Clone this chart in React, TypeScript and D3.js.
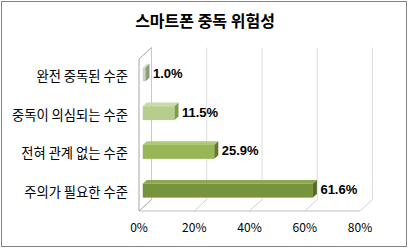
import React from "react";
import * as d3 from "d3";

const title = "스마트폰 중독 위험성";
const categories = ["완전 중독된 수준", "중독이 의심되는 수준", "전혀 관계 없는 수준", "주의가 필요한 수준"];
const values = [1.0, 11.5, 25.9, 61.6];
const valueLabels = ["1.0%", "11.5%", "25.9%", "61.6%"];
const ticks = [0, 20, 40, 60, 80];
const tickLabels = ["0%", "20%", "40%", "60%", "80%"];

const palette = [
  { front: "#c9d3b9", top: "#dbe2cf", side: "#8e9c7b" },
  { front: "#b6cd8c", top: "#c9dba7", side: "#7f9a51" },
  { front: "#99b656", top: "#afc873", side: "#627a2c" },
  { front: "#77933c", top: "#8ba851", side: "#566c26" },
];

const W = 409;
const H = 249;
const KR = "'Noto Sans CJK KR', 'Noto Sans', sans-serif";

export default function App() {
  const x = d3.scaleLinear().domain([0, 80]).range([139, 360]);
  const y = d3
    .scaleBand<string>()
    .domain(categories)
    .range([55, 210])
    .paddingInner(0.64)
    .paddingOuter(0.32);

  const floorY = 211;
  const depthX = 12.5;
  const depthY = -11.5;
  const wallTopFront = 59;
  const wallTopBack = wallTopFront + depthY;

  const d0 = 0.3;
  const d1 = 0.62;
  const ox = depthX * d0;
  const barDX = depthX * (d1 - d0);
  const barDY = depthY * (d1 - d0);
  const bh = y.bandwidth();

  return (
    <svg
      width={W}
      height={H}
      style={{ position: "fixed", left: 0, top: 0, background: "#fff" }}
    >
      <rect x={0} y={0} width={W} height={H} fill="#fff" />
      <rect x={1.5} y={1.5} width={405} height={245} fill="#fff" stroke="#868686" strokeWidth={1} />

      <text
        x={205}
        y={27}
        textAnchor="middle"
        fontFamily={KR}
        fontWeight={700}
        fontSize={16}
        fill="#000"
      >
        {title}
      </text>

      {ticks.map((t) => (
        <line
          key={"g" + t}
          x1={x(t) + depthX}
          x2={x(t) + depthX}
          y1={wallTopBack}
          y2={floorY + depthY}
          stroke={t === 0 ? "#c8c8c8" : "#dedede"}
          strokeWidth={1}
        />
      ))}
      {ticks.map((t) => (
        <line
          key={"f" + t}
          x1={x(t)}
          y1={floorY}
          x2={x(t) + depthX}
          y2={floorY + depthY}
          stroke={t === 0 ? "#a6a6a6" : "#d0d0d0"}
          strokeWidth={1}
        />
      ))}
      <line x1={x(0)} x2={x(80)} y1={floorY} y2={floorY} stroke="#bfbfbf" strokeWidth={1} />
      <polyline
        points={`${x(0)},${floorY} ${x(0)},${wallTopFront} ${x(0) + depthX},${wallTopBack}`}
        fill="none"
        stroke="#a6a6a6"
        strokeWidth={1}
      />

      {categories.map((c, i) => {
        const col = palette[i];
        const x0 = x(0) + ox;
        const x1 = x(values[i]) + ox;
        const y0 = y(c) as number;
        const y1 = y0 + bh;
        return (
          <g key={c}>
            <rect x={x0} y={y0} width={x1 - x0} height={bh} fill={col.front} />
            <polygon
              points={`${x0},${y0} ${x1},${y0} ${x1 + barDX},${y0 + barDY} ${x0 + barDX},${y0 + barDY}`}
              fill={col.top}
            />
            <polygon
              points={`${x1},${y0} ${x1 + barDX},${y0 + barDY} ${x1 + barDX},${y1 + barDY} ${x1},${y1}`}
              fill={col.side}
            />
            <text
              x={x1 + barDX + 3.5}
              y={y0 + bh / 2 - 1}
              dominantBaseline="central"
              fontFamily="'Liberation Sans', Arial, sans-serif"
              fontWeight={700}
              fontSize={13}
              fill="#000"
            >
              {valueLabels[i]}
            </text>
            <text
              x={128}
              y={y0 + bh / 2 + 1}
              textAnchor="end"
              dominantBaseline="central"
              fontFamily={KR}
              fontSize={13.3}
              fill="#000"
            >
              {c}
            </text>
          </g>
        );
      })}

      {ticks.map((t, i) => (
        <text
          key={"t" + t}
          x={x(t)}
          y={226}
          textAnchor="middle"
          dominantBaseline="central"
          fontFamily={KR}
          fontSize={12}
          fill="#000"
        >
          {tickLabels[i]}
        </text>
      ))}
    </svg>
  );
}
